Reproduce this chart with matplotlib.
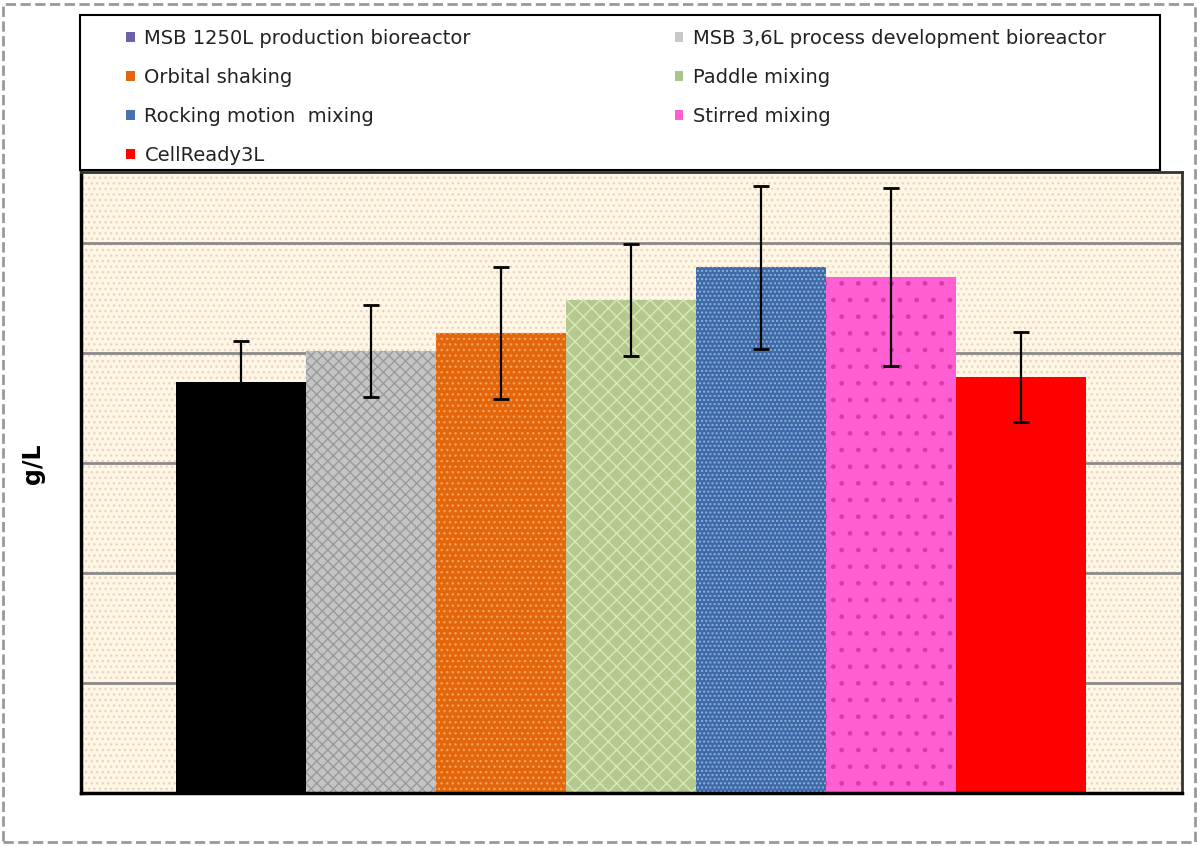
import matplotlib.pyplot as plt
from matplotlib.patches import Patch, Rectangle

plt.rcParams['hatch.linewidth'] = 1.0

labels = [
    'MSB 1250L production bioreactor',
    'MSB 3,6L process development bioreactor',
    'Orbital shaking',
    'Paddle mixing',
    'Rocking motion  mixing',
    'Stirred mixing',
    'CellReady3L',
]
values = [3.74, 4.02, 4.18, 4.48, 4.78, 4.69, 3.78]
errors = [0.37, 0.42, 0.60, 0.51, 0.74, 0.81, 0.41]

bar_colors = ['#000000', '#c4c4c4', '#e4660a', '#b5c98f', '#3e6aa8', '#ff5fd2', '#ff0000']
hatch_colors = ['#000000', '#9a9a9a', '#f3a060', '#d8eab8', '#8fb0dc', '#d83aa8', '#ff0000']
hatches = [None, 'xxx', '...', 'xx', '....', '.', None]
legend_colors = ['#7060a8', '#c8c8c8', '#e4660a', '#a8c48a', '#4a72b0', '#ff5fd2', '#ff0000']

fig = plt.figure(figsize=(12, 8.46), dpi=100)
ax = fig.add_axes([81 / 1200, 1 - 793 / 846, 1101 / 1200, 621 / 846])

# beige dotted background
ax.set_facecolor('#fdf7e4')
ax.add_patch(Rectangle((0, 0), 1, 1, transform=ax.transAxes, facecolor='none',
                       edgecolor='#efd0c8', hatch='...', lw=0, zorder=0))

for y in range(1, 6):
    ax.axhline(y, color='#8a8a8a', lw=2, zorder=1)

x = list(range(len(values)))
for i in x:
    ax.bar(i, values[i], width=1.0, color=bar_colors[i], edgecolor=hatch_colors[i],
           hatch=hatches[i], lw=0, zorder=2)
ax.errorbar(x, values, yerr=errors, fmt='none', ecolor='black', elinewidth=1.6,
            capsize=6, capthick=2, zorder=3)

ax.set_xlim(-1.23, 7.24)
ax.set_ylim(0, 5.645)
ax.set_xticks([])
ax.set_yticks([])
for s in ['left', 'bottom']:
    ax.spines[s].set_linewidth(2.5)
    ax.spines[s].set_color('black')
for s in ['top', 'right']:
    ax.spines[s].set_linewidth(2)
    ax.spines[s].set_color('#333333')

ax.set_ylabel('g/L', fontsize=17, fontweight='bold')
ax.yaxis.set_label_coords(-0.033, 0.53)

# legend box
fig.patches.append(Rectangle((80 / 1200, 1 - 170 / 846), 1080 / 1200, 155 / 846,
                             transform=fig.transFigure, facecolor='white',
                             edgecolor='black', lw=1.5, zorder=1))
# legend fills column by column, so reorder to read row by row
order = [0, 2, 4, 6, 1, 3, 5]
handles = [Patch(facecolor=legend_colors[i], edgecolor='none') for i in order]
fig.legend(handles, [labels[i] for i in order], ncol=2, loc='upper left', mode='expand',
           bbox_to_anchor=(126 / 1200, 1 - 29 / 846, 980 / 1200, 0),
           frameon=False, fontsize=14, borderpad=0, borderaxespad=0,
           handlelength=0.45, handleheight=0.45, handletextpad=0.5,
           labelspacing=1.03, labelcolor='#222222')

fig.patches.append(Rectangle((3 / 1200, 4 / 846), 1192 / 1200, 838 / 846,
                             transform=fig.transFigure, facecolor='none',
                             edgecolor='#999999', lw=2, ls='--', zorder=0))

fig.savefig('out.png', dpi=100)
